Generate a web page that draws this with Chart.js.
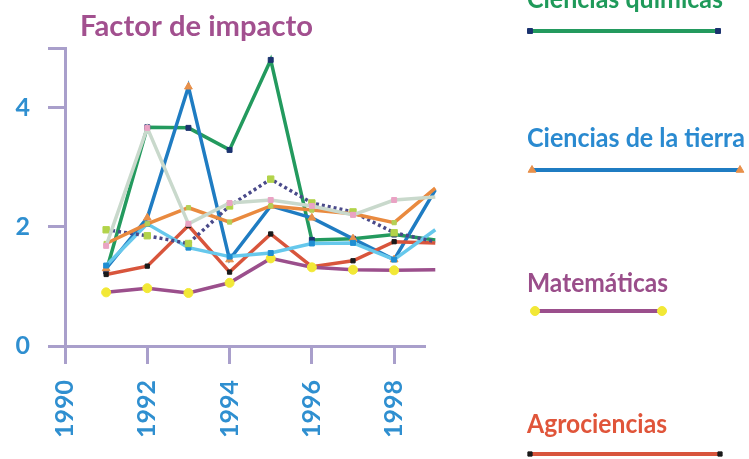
<!DOCTYPE html>
<html>
<head>
    <meta charset="UTF-8">
    <title>Factor de impacto</title>
    <script src="https://cdn.jsdelivr.net/npm/chart.js@4.4.1/dist/chart.umd.min.js"></script>
    <style>
        body { margin: 0; background: #fff; }
        #wrap { width: 749px; height: 459px; }
    </style>
</head>
<body>
    <div id="wrap"><canvas id="chart"></canvas></div>
    <script>
        // valores (1991-1999)
        const years = [1991, 1992, 1993, 1994, 1995, 1996, 1997, 1998, 1999];
        const xTicks = [1990, 1992, 1994, 1996, 1998];
        const yTicks = [0, 2, 4];

        const quimicas = [1.25, 3.67, 3.66, 3.29, 4.8, 1.78, 1.8, 1.87, 1.78];
        const tierra = [1.3, 2.15, 4.35, 1.45, 2.35, 2.15, 1.8, 1.45, 2.62];
        const matematicas = [0.9, 0.97, 0.89, 1.06, 1.47, 1.32, 1.28, 1.27, 1.28];
        const agrociencias = [1.2, 1.34, 2.02, 1.24, 1.88, 1.33, 1.43, 1.75, 1.73];
        const celeste = [1.35, 2.05, 1.65, 1.5, 1.56, 1.72, 1.73, 1.45, 1.95];
        const naranja = [1.72, 2.05, 2.32, 2.08, 2.35, 2.28, 2.22, 2.07, 2.65];
        const punteada = [1.95, 1.85, 1.72, 2.35, 2.8, 2.4, 2.25, 1.9, 1.75];
        const palida = [1.68, 3.66, 2.05, 2.4, 2.45, 2.35, 2.2, 2.45, 2.5];

        const pts = arr => arr.map((v, i) => ({ x: years[i], y: v }));

        const lavanda = '#a99fcb';
        const azul = '#2f8fd0';

        function ds(label, data, line, marker, style, r, dash) {
            return {
                label: label,
                data: pts(data),
                borderColor: line,
                borderWidth: 3.5,
                borderDash: dash || [],
                pointStyle: style,
                pointRadius: r,
                pointBackgroundColor: marker,
                pointBorderColor: marker,
                pointBorderWidth: 1,
                tension: 0,
                clip: false
            };
        }

        function fitText(ctx, text, x, y, w) {
            const m = ctx.measureText(text).width;
            ctx.save();
            ctx.translate(x, y);
            ctx.scale(w / m, 1);
            ctx.fillText(text, 0, 0);
            ctx.restore();
        }

        const textos = {
            id: 'textos',
            afterDraw(chart) {
                const ctx = chart.ctx;
                const d = chart.data.datasets;
                ctx.save();
                ctx.textAlign = 'left';
                ctx.textBaseline = 'alphabetic';
                ctx.font = 'bold 28px Lato';
                ctx.fillStyle = '#a2508f';
                fitText(ctx, 'Factor de impacto', 80, 36, 233);

                const items = [
                    { i: 7, text: 'Ciencias químicas', color: '#1f9a5a', ty: 8, tw: 196, ly: 31, x1: 530, x2: 718 },
                    { i: 6, text: 'Ciencias de la tierra', color: '#2a8ad0', ty: 147, tw: 218, ly: 170, x1: 532, x2: 740 },
                    { i: 4, text: 'Matemáticas', color: '#9a4e8a', ty: 292, tw: 141, ly: 311, x1: 535, x2: 662 },
                    { i: 5, text: 'Agrociencias', color: '#e0553a', ty: 433, tw: 140, ly: 454, x1: 530, x2: 720 }
                ];
                items.forEach(it => {
                    const s = d[it.i];
                    ctx.fillStyle = it.color;
                    ctx.font = 'bold 27px Lato';
                    fitText(ctx, it.text, 527, it.ty, it.tw);
                    ctx.strokeStyle = s.borderColor;
                    ctx.lineWidth = 4;
                    ctx.beginPath();
                    ctx.moveTo(it.x1, it.ly);
                    ctx.lineTo(it.x2, it.ly);
                    ctx.stroke();
                    [it.x1, it.x2].forEach(x => {
                        ctx.fillStyle = s.pointBackgroundColor;
                        ctx.strokeStyle = s.pointBorderColor;
                        ctx.lineWidth = 1;
                        Chart.helpers.drawPoint(ctx, { pointStyle: s.pointStyle, radius: s.pointRadius, borderWidth: 1, rotation: 0 }, x, it.ly);
                    });
                });
                ctx.restore();
            }
        };

        new Chart(document.getElementById('chart'), {
            type: 'line',
            data: {
                datasets: [
                    ds('', palida, '#c9d9cc', '#eaa3c4', 'rect', 3.5),
                    ds('', naranja, '#e98a3f', '#b5cf56', 'rect', 3),
                    ds('', punteada, '#4a4a8a', '#b2d34a', 'rect', 4.5, [3, 3]),
                    ds('', celeste, '#66c8ec', '#1f8ed2', 'rect', 3.5),
                    ds('Matemáticas', matematicas, '#9b4f8c', '#f2e836', 'circle', 4.5),
                    ds('Agrociencias', agrociencias, '#d8553c', '#1a1a1a', 'rect', 3),
                    ds('Ciencias de la tierra', tierra, '#1f7cc2', '#e8904a', 'triangle', 4.5),
                    ds('Ciencias químicas', quimicas, '#239a5e', '#1b336f', 'rect', 3.5)
                ]
            },
            options: {
                responsive: true,
                maintainAspectRatio: false,
                animation: false,
                layout: { padding: { left: 0, right: 324, top: 48, bottom: 0 } },
                plugins: { legend: { display: false }, title: { display: false }, tooltip: { enabled: false } },
                scales: {
                    x: {
                        type: 'linear',
                        min: 1990,
                        max: 1998.75,
                        afterFit: s => { s.height = 113; },
                        afterBuildTicks: s => { s.ticks = xTicks.map(v => ({ value: v })); },
                        border: { display: true, color: lavanda, width: 3 },
                        grid: { drawOnChartArea: false, drawTicks: true, tickLength: 18, tickColor: lavanda, tickWidth: 3 },
                        ticks: {
                            autoSkip: false,
                            minRotation: 90,
                            maxRotation: 90,
                            padding: 16,
                            color: azul,
                            font: { family: 'Lato', size: 25, weight: 'bold' },
                            callback: v => String(v)
                        }
                    },
                    y: {
                        min: 0,
                        max: 5,
                        afterFit: s => { s.width = 65; },
                        afterBuildTicks: s => { s.ticks = yTicks.concat([5]).map(v => ({ value: v })); },
                        border: { display: true, color: lavanda, width: 3 },
                        grid: { drawOnChartArea: false, drawTicks: true, tickLength: 17, tickColor: lavanda, tickWidth: 3 },
                        ticks: {
                            padding: 18,
                            color: azul,
                            font: { family: 'Lato', size: 25, weight: 'bold' },
                            callback: v => (yTicks.includes(v) ? String(v) : '')
                        }
                    }
                }
            },
            plugins: [textos]
        });
    </script>
</body>
</html>
